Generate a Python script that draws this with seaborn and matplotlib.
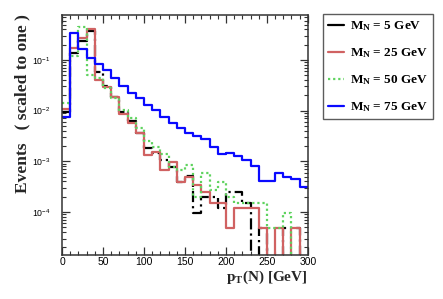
import numpy as np
import pandas as pd
import matplotlib
matplotlib.use("Agg")
import matplotlib.pyplot as plt
import seaborn as sns
from matplotlib.lines import Line2D
from matplotlib.ticker import MultipleLocator, LogLocator, NullFormatter

# 10 GeV bins of the heavy-neutrino pT, fractions of events (scaled to one)
bin_centers = np.arange(5, 300, 10)

frac_5gev = [0.0094, 0.137, 0.237, 0.38, 0.058, 0.0307, 0.0186, 0.0094, 0.00625, 0.0036,
             0.00183, 0.00146, 0.00106, 0.00077, 0.00039, 0.00051, 0.0000955, 0.0002, 0.0002, 0.00012,
             0.00025, 0.00025, 0.00015, 0.0, 0.0000483, 0.0, 0.0, 0.0000483, 0.0000483, 0.0]
frac_25gev = [0.0108, 0.172, 0.272, 0.409, 0.0403, 0.0293, 0.0186, 0.0086, 0.0058, 0.0036,
              0.00133, 0.00153, 0.000675, 0.00097, 0.00039, 0.00049, 0.00034, 0.00025, 0.00015, 0.00015,
              0.0000483, 0.00012, 0.00012, 0.00012, 0.0000483, 0.0, 0.0000483, 0.0, 0.0000483, 0.0]
frac_50gev = [0.0142, 0.12, 0.448, 0.0506, 0.044, 0.028, 0.0178, 0.0103, 0.0072, 0.00455,
              0.00252, 0.00192, 0.0014, 0.00077, 0.00068, 0.00085, 0.0002, 0.00059, 0.00027, 0.00039,
              0.0002, 0.00015, 0.00015, 0.00015, 0.00015, 0.0000483, 0.0000483, 0.0000955, 0.0, 0.0]
frac_75gev = [0.0075, 0.341, 0.165, 0.109, 0.0834, 0.0635, 0.0441, 0.0307, 0.0223, 0.0178,
              0.0129, 0.0103, 0.0075, 0.0057, 0.00455, 0.0036, 0.0032, 0.0028, 0.0019, 0.0014,
              0.00146, 0.0013, 0.00106, 0.00081, 0.00041, 0.00041, 0.00059, 0.00049, 0.00045, 0.00031]

series_labels = [r"$\mathbf{M_N}$ = 5 GeV", r"$\mathbf{M_N}$ = 25 GeV",
                 r"$\mathbf{M_N}$ = 50 GeV", r"$\mathbf{M_N}$ = 75 GeV"]
series_colors = ["black", "#d06262", "#5fd35f", "#0a0aff"]
series_styles = [(0, (5, 1.8, 1, 1.8)), "-", (0, (1, 1.3)), "-"]

sns.set_theme(style="ticks")
plt.rcParams["font.family"] = ["Liberation Sans", "DejaVu Sans"]
plt.rcParams["mathtext.fontset"] = "custom"
plt.rcParams["mathtext.rm"] = "Liberation Serif"
plt.rcParams["mathtext.it"] = "Liberation Serif:italic"
plt.rcParams["mathtext.bf"] = "Liberation Serif:bold"
plt.rcParams["text.color"] = "black"
plt.rcParams["xtick.labelcolor"] = "black"
plt.rcParams["ytick.labelcolor"] = "black"

fig = plt.figure(figsize=(4.43, 2.99), dpi=100)
ax = fig.add_axes([0.140, 0.147, 0.555, 0.803])

all_fracs = [frac_5gev, frac_25gev, frac_50gev, frac_75gev]
for frac, color, ls in zip(all_fracs, series_colors, series_styles):
    df = pd.DataFrame({"pt": bin_centers, "frac": frac})
    sns.histplot(data=df, x="pt", weights="frac", binwidth=10, binrange=(0, 300),
                 element="step", fill=False, color=color, linestyle=ls,
                 linewidth=1.6, ax=ax)

ax.set_yscale("log")
ax.set_xlim(0, 300)
ax.set_ylim(10 ** -4.849, 10 ** -0.112)

# ROOT-like frame: inward ticks on all sides
ax.xaxis.set_major_locator(MultipleLocator(50))
ax.xaxis.set_minor_locator(MultipleLocator(10))
ax.yaxis.set_major_locator(LogLocator(base=10, numticks=10))
ax.yaxis.set_minor_locator(LogLocator(base=10, subs=np.arange(2, 10), numticks=20))
ax.yaxis.set_minor_formatter(NullFormatter())
ax.tick_params(which="both", direction="in", top=True, right=True, color="#333333")
ax.tick_params(which="major", length=6, width=0.9)
ax.tick_params(which="minor", length=3, width=0.8)
ax.tick_params(axis="x", labelsize=7.5, pad=1.5)
ax.tick_params(axis="y", labelsize=6.3, pad=8)
for sp in ax.spines.values():
    sp.set_linewidth(1.1)
    sp.set_color("#333333")

ax.set_xlabel(r"$\mathbf{p_T}$(N) [GeV]", loc="right", fontsize=11,
              family="Liberation Serif", weight="bold")
ax.xaxis.set_label_coords(1.0, -0.055)
ax.set_ylabel("Events   ( scaled to one )", loc="top", fontsize=12.5,
              family="Liberation Serif", weight="bold")
ax.yaxis.set_label_coords(-0.128, 1.005)

handles = [Line2D([], [], color=c, lw=1.6, ls=("-" if i != 2 else (0, (1, 1.3))))
           for i, c in enumerate(series_colors)]
leg = fig.legend(handles, series_labels, loc="upper left",
                 bbox_to_anchor=(0.729, 0.953),
                 prop={"family": "Liberation Serif", "weight": "bold", "size": 9.5},
                 frameon=True, fancybox=False, edgecolor="#333333", borderpad=0.4,
                 labelspacing=1.0, handlelength=1.2, handletextpad=0.45, borderaxespad=0)
leg.get_frame().set_linewidth(1.0)

fig.savefig("out.png", dpi=100)
